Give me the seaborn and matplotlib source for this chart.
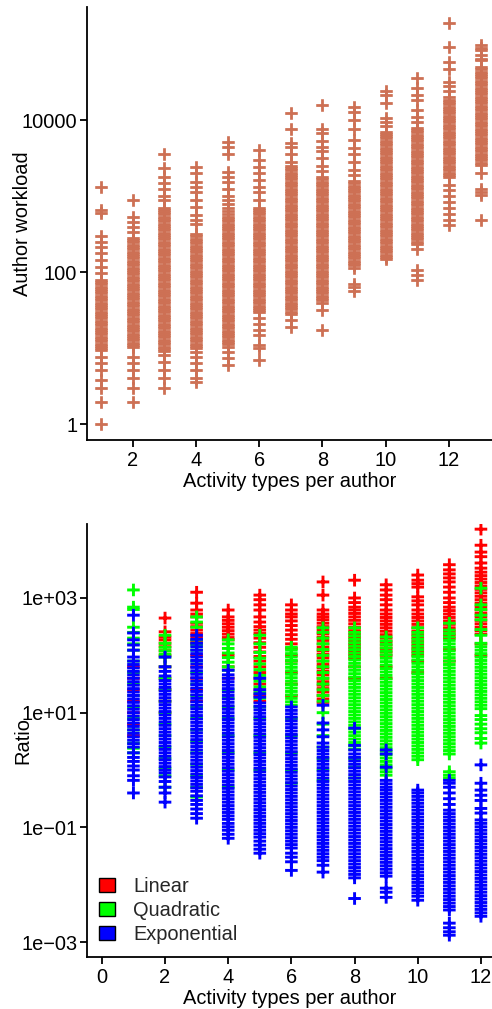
import matplotlib
matplotlib.use("Agg")
import matplotlib.pyplot as plt
import seaborn as sns
import numpy as np
import pandas as pd
from matplotlib.patches import Patch

# values are log10 of the plotted quantity
workload_types = list(range(1, 14))
workload_log = [
    [3.12, 2.82, 2.78, 2.47, 2.40, 2.33, 2.25, 2.16, 2.07, 1.99,
     1.90, 1.87, 1.84, 1.81, 1.78, 1.75, 1.72, 1.69, 1.66, 1.63, 1.60, 1.57, 1.54, 1.51, 1.48, 1.45, 1.42,
     1.39, 1.36, 1.33, 1.30, 1.27, 1.24, 1.21, 1.18, 1.15, 1.12, 1.09, 1.06, 1.03, 1.00,
     0.97, 0.88, 0.80, 0.71, 0.58, 0.47, 0.29, 0.00],
    [2.95, 2.72, 2.66, 2.59, 2.53,
     2.45, 2.42, 2.39, 2.36, 2.33, 2.30, 2.27, 2.24, 2.21, 2.18, 2.15, 2.12, 2.09, 2.06, 2.03, 2.00, 1.97,
     1.94, 1.91, 1.88, 1.85, 1.82, 1.79, 1.76, 1.73, 1.70, 1.67, 1.64, 1.61, 1.58, 1.55, 1.52, 1.49, 1.46,
     1.43, 1.40, 1.37, 1.34, 1.31, 1.28, 1.25, 1.22, 1.19, 1.16, 1.13, 1.10, 1.07, 1.04, 1.01,
     0.88, 0.80, 0.71, 0.60, 0.47, 0.29],
    [3.55, 3.37, 3.25, 3.17, 3.10, 3.00, 2.95,
     2.85, 2.82, 2.79, 2.76, 2.73, 2.70, 2.67, 2.64, 2.61, 2.58, 2.55, 2.52, 2.49, 2.46, 2.43, 2.40, 2.37,
     2.34, 2.31, 2.28, 2.25, 2.22, 2.19, 2.16, 2.13, 2.10, 2.07, 2.04, 2.01, 1.98, 1.95, 1.92, 1.89, 1.86,
     1.83, 1.80, 1.77, 1.74, 1.71, 1.68, 1.65, 1.62, 1.59, 1.56, 1.53, 1.50, 1.47, 1.44, 1.41, 1.38, 1.35,
     1.32, 1.29, 1.26, 1.23, 1.20, 1.17, 1.14, 1.11, 1.08, 1.05, 1.02, 0.99, 0.96,
     0.91, 0.82, 0.71, 0.60, 0.47],
    [3.38, 3.30, 3.19, 3.12, 3.05, 2.95, 2.86, 2.75, 2.68, 2.64,
     2.50, 2.47, 2.44, 2.41, 2.38, 2.35, 2.32, 2.29, 2.26, 2.23, 2.20, 2.17, 2.14, 2.11, 2.08, 2.05, 2.02,
     1.99, 1.96, 1.93, 1.90, 1.87, 1.84, 1.81, 1.78, 1.75, 1.72, 1.69, 1.66, 1.63, 1.60, 1.57, 1.54, 1.51,
     1.48, 1.45, 1.42, 1.39, 1.36, 1.33, 1.30, 1.27, 1.24, 1.21, 1.18, 1.15, 1.12, 1.09, 1.06, 1.03, 1.00,
     0.95, 0.88, 0.80, 0.71, 0.60, 0.55],
    [3.71, 3.65, 3.56, 3.32, 3.25, 3.19, 3.10,
     3.00, 2.95, 2.90, 2.85, 2.80, 2.76, 2.73, 2.70, 2.67, 2.64, 2.61, 2.58, 2.55, 2.52, 2.49, 2.46, 2.43,
     2.40, 2.37, 2.34, 2.31, 2.28, 2.25, 2.22, 2.19, 2.16, 2.13, 2.10, 2.07, 2.04, 2.01, 1.98, 1.95, 1.92,
     1.89, 1.86, 1.83, 1.80, 1.77, 1.74, 1.71, 1.68, 1.65, 1.62, 1.59, 1.56, 1.53, 1.50, 1.47, 1.44, 1.41,
     1.38, 1.35, 1.32, 1.29, 1.26, 1.23, 1.20, 1.17, 1.14, 1.11, 1.08, 1.05,
     1.01, 0.95, 0.87, 0.78],
    [3.61, 3.47, 3.38, 3.30, 3.21, 3.12, 3.05, 2.95,
     2.85, 2.82, 2.79, 2.76, 2.73, 2.70, 2.67, 2.64, 2.61, 2.58, 2.55, 2.52, 2.49, 2.46, 2.43, 2.40, 2.37,
     2.34, 2.31, 2.28, 2.25, 2.22, 2.19, 2.16, 2.13, 2.10, 2.07, 2.04, 2.01, 1.98, 1.95, 1.92, 1.89, 1.86,
     1.83, 1.80, 1.77, 1.74, 1.71, 1.68, 1.65, 1.62, 1.59, 1.56, 1.53, 1.50, 1.47,
     1.39, 1.32, 1.24, 1.17, 1.04, 1.00, 0.84],
    [4.09, 3.89, 3.70, 3.65, 3.55, 3.45,
     3.40, 3.37, 3.34, 3.31, 3.28, 3.25, 3.22, 3.19, 3.16, 3.13, 3.10, 3.07, 3.04, 3.01, 2.98, 2.95, 2.92,
     2.89, 2.86, 2.83, 2.80, 2.77, 2.74, 2.71, 2.68, 2.65, 2.62, 2.59, 2.56, 2.53, 2.50, 2.47, 2.44, 2.41,
     2.38, 2.35, 2.32, 2.29, 2.26, 2.23, 2.20, 2.17, 2.14, 2.11, 2.08, 2.05, 2.02, 1.99, 1.96, 1.93, 1.90,
     1.87, 1.84, 1.81, 1.78, 1.75, 1.72, 1.69, 1.66, 1.63, 1.60, 1.57, 1.54, 1.51, 1.48, 1.45,
     1.37, 1.28],
    [4.20, 3.89, 3.83, 3.72, 3.65, 3.60, 3.50, 3.40, 3.33,
     3.25, 3.22, 3.19, 3.16, 3.13, 3.10, 3.07, 3.04, 3.01, 2.98, 2.95, 2.92, 2.89, 2.86, 2.83, 2.80, 2.77,
     2.74, 2.71, 2.68, 2.65, 2.62, 2.59, 2.56, 2.53, 2.50, 2.47, 2.44, 2.41, 2.38, 2.35, 2.32, 2.29, 2.26,
     2.23, 2.20, 2.17, 2.14, 2.11, 2.08, 2.05, 2.02, 1.99, 1.96, 1.93, 1.90, 1.87, 1.84, 1.81, 1.78, 1.75,
     1.72, 1.69, 1.66, 1.63, 1.60,
     1.50, 1.24],
    [4.18, 4.11, 4.00, 3.89, 3.74, 3.63, 3.55, 3.45, 3.35, 3.28,
     3.20, 3.17, 3.14, 3.11, 3.08, 3.05, 3.02, 2.99, 2.96, 2.93, 2.90, 2.87, 2.84, 2.81, 2.78, 2.75, 2.72,
     2.69, 2.66, 2.63, 2.60, 2.57, 2.54, 2.51, 2.48, 2.45, 2.42, 2.39, 2.36, 2.33, 2.30, 2.27, 2.24, 2.21,
     2.18, 2.15, 2.12, 2.09, 2.06,
     1.85, 1.80, 1.75],
    [4.39, 4.33, 4.22, 4.03, 3.97, 3.92,
     3.85, 3.82, 3.79, 3.76, 3.73, 3.70, 3.67, 3.64, 3.61, 3.58, 3.55, 3.52, 3.49, 3.46, 3.43, 3.40, 3.37,
     3.34, 3.31, 3.28, 3.25, 3.22, 3.19, 3.16, 3.13, 3.10, 3.07, 3.04, 3.01, 2.98, 2.95, 2.92, 2.89, 2.86,
     2.83, 2.80, 2.77, 2.74, 2.71, 2.68, 2.65, 2.62, 2.59, 2.56, 2.53, 2.50, 2.47, 2.44, 2.41, 2.38, 2.35,
     2.32, 2.29, 2.26, 2.23, 2.20, 2.17],
    [4.55, 4.42, 4.33, 4.26, 4.13, 4.04, 3.97,
     3.90, 3.87, 3.84, 3.81, 3.78, 3.75, 3.72, 3.69, 3.66, 3.63, 3.60, 3.57, 3.54, 3.51, 3.48, 3.45, 3.42,
     3.39, 3.36, 3.33, 3.30, 3.27, 3.24, 3.21, 3.18, 3.15, 3.12, 3.09, 3.06, 3.03, 3.00, 2.97, 2.94, 2.91,
     2.88, 2.85, 2.82, 2.79, 2.76, 2.73, 2.70, 2.67, 2.64, 2.61, 2.58, 2.55, 2.52, 2.49, 2.46, 2.43, 2.40,
     2.37,
     2.30, 2.03, 1.96, 1.89],
    [5.28, 4.96, 4.76, 4.68, 4.50, 4.45, 4.39,
     4.30, 4.27, 4.24, 4.21, 4.18, 4.15, 4.12, 4.09, 4.06, 4.03, 4.00, 3.97, 3.94, 3.91, 3.88, 3.85, 3.82,
     3.79, 3.76, 3.73, 3.70, 3.67, 3.64, 3.61, 3.58, 3.55, 3.52, 3.49, 3.46, 3.43, 3.40, 3.37, 3.34, 3.31,
     3.28, 3.25,
     3.15, 3.08, 3.00, 2.92, 2.84, 2.76, 2.68, 2.62],
    [4.99, 4.95, 4.92, 4.86, 4.81, 4.79,
     4.70, 4.67, 4.64, 4.61, 4.58, 4.55, 4.52, 4.49, 4.46, 4.43, 4.40, 4.37, 4.34, 4.31, 4.28, 4.25, 4.22,
     4.19, 4.16, 4.13, 4.10, 4.07, 4.04, 4.01, 3.98, 3.95, 3.92, 3.89, 3.86, 3.83, 3.80, 3.77, 3.74, 3.71,
     3.68, 3.65, 3.62, 3.59, 3.56, 3.53, 3.50, 3.47, 3.44, 3.41,
     3.30, 3.10, 3.06, 3.02, 2.68],
]

ratio_types = list(range(1, 13))
linear_log = [
    [1.80, 1.60, 1.40, 1.20, 1.00, 0.80, 0.60],
    [2.65, 2.41, 2.32, 2.27, 2.21, 2.15, 2.08, 2.00, 1.80, 1.60, 1.40, 1.20, 1.00],
    [3.10, 2.91, 2.79, 2.72, 2.67, 2.56, 2.50, 2.44, 2.38, 2.32, 2.26, 2.21, 2.00, 1.80, 1.60, 1.40, 1.20],
    [2.79, 2.67, 2.61, 2.55, 2.49, 2.43, 2.37, 2.31, 2.27, 2.00, 1.80, 1.60],
    [3.05, 2.97, 2.88, 2.79, 2.67, 2.58, 2.50, 2.44, 2.38, 2.30, 2.22, 2.14, 2.06, 1.98, 1.90, 1.80, 1.70,
     1.60, 1.50, 1.40, 1.30, 1.20],
    [2.88, 2.79, 2.72, 2.67, 2.60, 2.52, 2.44, 2.36, 2.28, 2.20, 2.12, 2.00, 1.90, 1.70, 1.50, 1.30],
    [3.28, 3.05, 2.79, 2.72, 2.67, 2.62, 2.56, 2.50, 2.44, 2.38, 2.32, 2.26, 2.20, 2.14, 2.08, 2.02, 1.96,
     1.90, 1.84, 1.78, 1.72, 1.66, 1.60, 1.54, 1.48, 1.42, 1.36, 1.30, 1.24, 1.18],
    [3.31, 3.00, 2.92, 2.84, 2.79, 2.73, 2.67, 2.61, 2.55, 2.49, 2.43, 2.37, 2.31, 2.25, 2.19, 2.13, 2.07,
     2.01, 1.95, 1.80, 1.60],
    [3.23, 3.14, 3.05, 2.97, 2.88, 2.79, 2.72, 2.66, 2.60, 2.54, 2.48, 2.42, 2.36, 2.30, 2.24, 2.18, 2.12,
     2.06, 2.00, 1.80, 1.60],
    [3.40, 3.31, 3.25, 3.19, 3.02, 2.95, 2.88, 2.79, 2.72, 2.66, 2.60, 2.54, 2.48, 2.42, 2.36, 2.30, 2.24,
     2.18, 2.12, 2.06, 2.00, 1.90, 1.70],
    [3.58, 3.49, 3.42, 3.35, 3.28, 3.19, 3.10, 3.00, 2.92, 2.84, 2.78, 2.72, 2.66, 2.60, 2.54, 2.48, 2.42,
     2.36, 2.30, 2.10, 1.90],
    [4.20, 3.92, 3.80, 3.72, 3.61, 3.52, 3.45, 3.39, 3.33, 3.27, 3.21, 3.15, 3.09, 3.03, 2.97, 2.91, 2.85,
     2.79, 2.73, 2.67, 2.61, 2.55, 2.49, 2.43, 2.37, 2.20, 2.00],
]
quadratic_log = [
    [3.14, 2.84, 2.80, 2.49, 2.40, 2.30, 2.20, 2.09, 1.90, 1.70, 1.50, 1.30, 1.10, 0.90, 0.70, 0.47, 0.38, 0.30],
    [2.35, 2.21, 2.14, 2.08, 2.02, 1.97, 1.80, 1.60, 1.40, 1.20, 1.00, 0.80, 0.60, 0.40, 0.20, 0.03, -0.10, -0.30],
    [2.67, 2.58, 2.49, 2.27, 2.18, 2.09, 1.90, 1.70, 1.50, 1.30, 1.10, 0.90, 0.70, 0.50, 0.30, 0.10, -0.10,
     -0.30, -0.47],
    [2.27, 2.20, 2.12, 2.04, 1.96, 1.88, 1.80, 1.74, 1.40, 1.25, 1.10, 0.90, 0.60, 0.30, 0.00, -0.30],
    [2.35, 2.20, 2.05, 1.95, 1.85, 1.75, 1.65, 1.55, 1.45, 1.35, 1.25, 1.10, 0.90, 0.60, 0.30, 0.00],
    [2.14, 2.09, 2.03, 1.97, 1.91, 1.85, 1.79, 1.73, 1.67, 1.61, 1.55, 1.49, 1.43, 1.37, 1.31, 1.25, 1.19,
     1.13, 0.90, 0.60, 0.30, 0.00, -0.23],
    [2.48, 2.40, 2.30, 2.20, 2.10, 2.00, 1.90, 1.80, 1.70, 1.60, 1.50, 1.40, 1.30, 1.20, 1.00, 0.80, 0.60,
     0.40, 0.20, 0.00, -0.18],
    [2.48, 2.40, 2.34, 2.28, 2.22, 2.16, 2.10, 2.04, 1.98, 1.92, 1.86, 1.80, 1.74, 1.68, 1.62, 1.56, 1.50,
     1.44, 1.38, 1.32, 1.26, 1.20, 1.14, 1.08, 1.02, 0.96, 0.90, 0.84, 0.78, 0.72, 0.66, 0.60, 0.54, 0.48,
     0.42, 0.36, 0.20, 0.05, -0.14],
    [2.32, 2.25, 2.19, 2.13, 2.07, 2.01, 1.95, 1.89, 1.83, 1.77, 1.71, 1.65, 1.59, 1.53, 1.47, 1.41, 1.35,
     1.29, 1.23, 1.17, 1.11, 1.05, 0.99, 0.93, 0.87, 0.81, 0.75, 0.69, 0.63, 0.57, 0.51, 0.45, 0.39, 0.33,
     0.27, 0.21, 0.15, 0.09, 0.03, -0.03, -0.09],
    [2.48, 2.40, 2.34, 2.28, 2.22, 2.16, 2.10, 2.04, 1.98, 1.92, 1.86, 1.80, 1.74, 1.68, 1.62, 1.56, 1.50,
     1.44, 1.38, 1.32, 1.26, 1.20, 1.14, 1.08, 1.02, 0.96, 0.90, 0.84, 0.78, 0.72, 0.66, 0.60, 0.54, 0.48,
     0.42, 0.36, 0.30, 0.24, 0.18],
    [2.56, 2.44, 2.38, 2.32, 2.26, 2.20, 2.14, 2.08, 2.02, 1.96, 1.90, 1.84, 1.78, 1.72, 1.66, 1.60, 1.54,
     1.48, 1.42, 1.36, 1.30, 1.24, 1.18, 1.12, 1.06, 1.00, 0.94, 0.88, 0.82, 0.76, 0.70, 0.64, 0.58, 0.52,
     0.46, 0.40, 0.34, 0.28, -0.03, -0.09, -0.14],
    [3.17, 2.88, 2.80, 2.70, 2.62, 2.45, 2.35, 2.21, 2.15, 2.09, 2.03, 1.97, 1.91, 1.85, 1.79, 1.73, 1.67,
     1.61, 1.55, 1.49, 1.43, 1.37, 1.31, 1.25, 1.19, 1.13, 1.07, 0.95, 0.88, 0.80, 0.72, 0.65, 0.55, 0.47],
]
exponential_log = [
    [2.70, 2.39, 2.27, 2.18, 2.09, 1.97, 1.90, 1.84, 1.78, 1.72, 1.66, 1.60, 1.54, 1.48, 1.42, 1.36, 1.30,
     1.24, 1.18, 1.12, 1.06, 1.00, 0.94, 0.88, 0.82, 0.76, 0.70, 0.64, 0.58, 0.52, 0.46, 0.40, 0.30, 0.22,
     0.15, 0.07, 0.00, -0.10, -0.18, -0.40],
    [1.97, 1.80, 1.72, 1.64, 1.56, 1.50, 1.44, 1.38, 1.32, 1.26, 1.20, 1.14, 1.08, 1.02, 0.96, 0.90, 0.84,
     0.78, 0.72, 0.66, 0.60, 0.54, 0.48, 0.42, 0.36, 0.30, 0.24, 0.18, 0.12, 0.06, 0.00, -0.05, -0.12, -0.20,
     -0.30, -0.40, -0.56],
    [2.35, 2.28, 2.21, 2.15, 2.09, 2.03, 1.97, 1.91, 1.85, 1.79, 1.73, 1.67, 1.61, 1.55, 1.49, 1.43, 1.37,
     1.31, 1.25, 1.19, 1.13, 1.07, 1.01, 0.95, 0.89, 0.83, 0.77, 0.71, 0.65, 0.59, 0.53, 0.47, 0.41, 0.35,
     0.29, 0.23, 0.17, 0.11, 0.05, -0.01, -0.07, -0.13, -0.19, -0.25, -0.31, -0.37, -0.45, -0.53, -0.60,
     -0.68, -0.76, -0.84],
    [1.74, 1.66, 1.60, 1.54, 1.48, 1.42, 1.36, 1.30, 1.24, 1.18, 1.12, 1.06, 1.00, 0.94, 0.88, 0.82, 0.76,
     0.70, 0.64, 0.58, 0.52, 0.46, 0.40, 0.34, 0.28, 0.22, 0.16, 0.10, 0.04, -0.02, -0.08, -0.14, -0.20,
     -0.26, -0.32, -0.38, -0.44, -0.50, -0.56, -0.62, -0.68, -0.74, -0.80, -0.86, -0.93, -0.99, -1.05,
     -1.12, -1.19],
    [1.60, 1.40, 1.33, 1.27, 1.17, 1.11, 1.05, 0.99, 0.93, 0.87, 0.81, 0.75, 0.69, 0.63, 0.57, 0.51, 0.45,
     0.39, 0.33, 0.27, 0.21, 0.15, 0.09, 0.03, -0.03, -0.09, -0.15, -0.21, -0.27, -0.33, -0.39, -0.45,
     -0.51, -0.57, -0.63, -0.69, -0.75, -0.81, -0.87, -0.93, -0.99, -1.05, -1.11, -1.17, -1.24, -1.31,
     -1.38, -1.45],
    [1.10, 1.04, 0.98, 0.92, 0.86, 0.80, 0.74, 0.68, 0.62, 0.56, 0.50, 0.44, 0.38, 0.32, 0.26, 0.20, 0.14,
     0.08, 0.02, -0.04, -0.10, -0.16, -0.22, -0.28, -0.34, -0.40, -0.46, -0.52, -0.58, -0.64, -0.70, -0.76,
     -0.82, -0.88, -0.94, -1.00, -1.06, -1.12, -1.18, -1.24, -1.30, -1.36, -1.45, -1.52, -1.60, -1.75],
    [1.13, 0.82, 0.70, 0.58, 0.47, 0.40, 0.34, 0.28, 0.22, 0.16, 0.10, 0.04, -0.02, -0.08, -0.14, -0.20,
     -0.26, -0.32, -0.38, -0.44, -0.50, -0.56, -0.62, -0.68, -0.74, -0.80, -0.86, -0.92, -0.98, -1.04,
     -1.10, -1.16, -1.22, -1.28, -1.34, -1.40, -1.46, -1.52, -1.58, -1.66, -1.78],
    [0.73, 0.43, 0.35, 0.28, 0.22, 0.16, 0.10, 0.04, -0.02, -0.08, -0.14, -0.20, -0.26, -0.32, -0.38, -0.44,
     -0.50, -0.56, -0.62, -0.68, -0.74, -0.80, -0.86, -0.92, -0.98, -1.04, -1.10, -1.16, -1.22, -1.28,
     -1.34, -1.40, -1.46, -1.52, -1.58, -1.64, -1.70, -1.76, -1.82, -1.88, -2.24],
    [0.35, 0.28, 0.05, -0.18, -0.24, -0.30, -0.35, -0.41, -0.47, -0.53, -0.59, -0.65, -0.71, -0.77, -0.83,
     -0.89, -0.95, -1.01, -1.07, -1.13, -1.19, -1.25, -1.31, -1.37, -1.43, -1.49, -1.55, -1.61, -1.67,
     -1.73, -1.79, -1.85, -2.06, -2.13, -2.22],
    [-0.35, -0.40, -0.46, -0.52, -0.58, -0.64, -0.70, -0.76, -0.82, -0.88, -0.94, -1.00, -1.06, -1.12, -1.18,
     -1.24, -1.30, -1.36, -1.42, -1.48, -1.54, -1.60, -1.66, -1.72, -1.78, -1.84, -1.90, -1.96, -2.02,
     -2.08, -2.14, -2.20, -2.27],
    [-0.18, -0.23, -0.30, -0.40, -0.50, -0.60, -0.70, -0.76, -0.82, -0.88, -0.94, -1.00, -1.06, -1.12,
     -1.18, -1.24, -1.30, -1.36, -1.42, -1.48, -1.54, -1.60, -1.66, -1.72, -1.78, -1.84, -1.90, -1.96,
     -2.02, -2.08, -2.14, -2.20, -2.26, -2.32, -2.38, -2.44, -2.67, -2.75, -2.82, -2.88],
    [0.09, -0.23, -0.35, -0.44, -0.53, -0.67, -0.75, -0.87, -0.93, -0.99, -1.05, -1.11, -1.17, -1.23, -1.29,
     -1.35, -1.41, -1.47, -1.53, -1.59, -1.65, -1.71, -1.77, -1.83, -1.89, -1.95, -2.01, -2.07, -2.13,
     -2.19, -2.25, -2.31, -2.37, -2.43, -2.49, -2.55],
]

model_names = ["Linear", "Quadratic", "Exponential"]
model_colors = ["#FF0000", "#00FF00", "#0000FF"]
workload_color = "#CD7054"


def long_table(types, columns, name):
    rows = [(k, 10.0 ** v, name) for k, col in zip(types, columns) for v in col]
    return pd.DataFrame(rows, columns=["types", "value", "model"])


top = long_table(workload_types, workload_log, "workload")
# linear first so quadratic and exponential are drawn over it
bottom = pd.concat([long_table(ratio_types, linear_log, "Linear"),
                    long_table(ratio_types, quadratic_log, "Quadratic"),
                    long_table(ratio_types, exponential_log, "Exponential")],
                   ignore_index=True)

sns.set_theme(style="ticks")
plt.rcParams["font.family"] = ["Liberation Sans", "DejaVu Sans"]
plt.rcParams["axes.linewidth"] = 1.3
plt.rcParams["xtick.major.width"] = 1.3
plt.rcParams["ytick.major.width"] = 1.3
plt.rcParams["xtick.major.size"] = 5
plt.rcParams["ytick.major.size"] = 5
plt.rcParams["xtick.major.pad"] = 3
plt.rcParams["ytick.major.pad"] = 2
plt.rcParams["axes.edgecolor"] = "black"
plt.rcParams["xtick.color"] = "black"
plt.rcParams["ytick.color"] = "black"
fs = 14.4

fig = plt.figure(figsize=(4.92, 10.09), dpi=100)
ax1 = fig.add_axes([87 / 492, 569 / 1009, 405 / 492, 433 / 1009])
ax2 = fig.add_axes([87 / 492, 52 / 1009, 405 / 492, 433 / 1009])

# snap=False keeps the crosses at their exact positions so the crowded columns fill in
sns.scatterplot(data=top, x="types", y="value", color=workload_color, marker="+",
                s=82, linewidth=2.0, snap=False, legend=False, ax=ax1)
sns.scatterplot(data=bottom, x="types", y="value", hue="model", hue_order=model_names,
                palette=model_colors, marker="+", s=82, linewidth=2.1, snap=False, legend=False, ax=ax2)

ax1.set_yscale("log")
ax1.set_xlim(0.557, 13.36)
ax1.set_ylim(10 ** -0.21, 10 ** 5.49)
ax1.set_xticks([2, 4, 6, 8, 10, 12])
ax1.set_yticks([1, 100, 10000], ["1", "100", "10000"])
ax1.set_xlabel("Activity types per author", fontsize=fs, color="black")
ax1.set_ylabel("Author workload", fontsize=fs, color="black")

ax2.set_yscale("log")
ax2.set_xlim(-0.47, 12.35)
ax2.set_ylim(10 ** -3.26, 10 ** 4.29)
ax2.set_xticks([0, 2, 4, 6, 8, 10, 12])
ax2.set_yticks([1e3, 1e1, 1e-1, 1e-3], ["1e+03", "1e+01", "1e\u221201", "1e\u221203"])
ax2.set_xlabel("Activity types per author", fontsize=fs, color="black")
ax2.set_ylabel("Ratio", fontsize=fs, color="black")

for ax in (ax1, ax2):
    ax.yaxis.set_minor_locator(matplotlib.ticker.NullLocator())
    ax.tick_params(labelsize=fs, colors="black")
    ax.yaxis.set_label_coords(-0.135, 0.5)
    ax.xaxis.set_label_coords(0.5, -0.075)
    sns.despine(ax=ax)

handles = [Patch(facecolor=c, edgecolor="black", linewidth=1.0) for c in model_colors]
ax2.legend(handles, model_names, loc="upper left", bbox_to_anchor=(0.03, 0.185), frameon=False,
           fontsize=fs, handlelength=0.8, handleheight=0.65, handletextpad=0.9,
           labelspacing=0.25, borderpad=0, borderaxespad=0)

fig.savefig("out.png", dpi=100)
